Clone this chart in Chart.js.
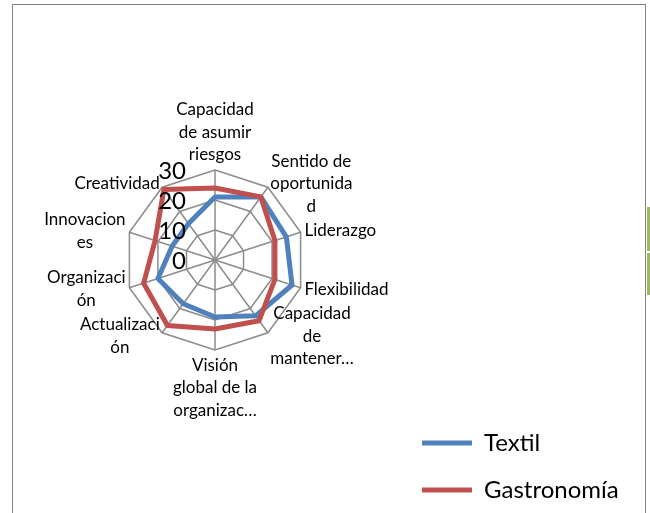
<!DOCTYPE html>
<html>
<head>
<meta charset="utf-8">
<script src="https://cdn.jsdelivr.net/npm/chart.js@4"></script>
<style>
  body { margin: 0; background: #fff; overflow: hidden; }
  #frame { position: absolute; left: 12px; top: 4px; width: 632px; height: 530px; border: 1px solid #858585; }
  #chart { display: block; }
  .side { position: absolute; left: 647px; width: 3px; background: #9bbb59; }
</style>
</head>
<body>
<div id="frame"><canvas id="chart" width="632" height="520"></canvas></div>
<div class="side" style="top:207px;height:44px"></div>
<div class="side" style="top:253px;height:42px"></div>
<script>
// Radar chart: Textil vs Gastronomía

// Categories (multi-line labels as in the original)
const categories = [
    ['Capacidad', 'de asumir', 'riesgos'],
    ['Sentido de', 'oportunida', 'd'],
    'Liderazgo',
    'Flexibilidad',
    ['Capacidad', 'de', 'mantener…'],
    ['Visión', 'global de la', 'organizac…'],
    ['Actualizaci', 'ón'],
    ['Organizaci', 'ón'],
    ['Innovacion', 'es'],
    'Creatividad'
];

const seriesNames = ['Textil', 'Gastronomía'];
const textil = [21, 26, 25, 27, 23, 19, 18, 20, 15, 15];
const gastronomia = [24, 26, 21, 21, 25, 23, 27, 25, 21, 29];

const tickValues = [0, 10, 20, 30];

const colors = ['#4f81bd', '#c0504d'];

const labelFont = '17px Lato';
const labelLineHeight = 22.5;

// Axis numbers to the left of the top spoke, like Excel does
const tickLabelsPlugin = {
    id: 'tickLabels',
    afterDatasetsDraw(chart) {
        const scale = chart.scales.r;
        const ctx = chart.ctx;
        ctx.save();
        ctx.font = '24px Lato';
        ctx.fillStyle = '#000';
        ctx.textAlign = 'right';
        ctx.textBaseline = 'middle';
        tickValues.forEach(v => {
            const d = scale.getDistanceFromCenterForValue(v);
            ctx.fillText(String(v), scale.xCenter - 29, scale.yCenter - d + 1);
        });
        ctx.restore();
    }
};

// Category labels: vertically centred on their spoke end, lines centred in the block
const pointLabelsPlugin = {
    id: 'excelPointLabels',
    afterDatasetsDraw(chart) {
        const scale = chart.scales.r;
        const ctx = chart.ctx;
        const n = categories.length;
        ctx.save();
        ctx.font = labelFont;
        ctx.fillStyle = '#000';
        ctx.textAlign = 'center';
        ctx.textBaseline = 'middle';
        categories.forEach((label, i) => {
            const lines = [].concat(label);
            const p = scale.getPointPosition(i, scale.drawingArea + 4);
            const angle = (i * 360 / n) % 360;
            const bw = Math.max(...lines.map(l => ctx.measureText(l).width));
            const bh = lines.length * labelLineHeight;
            let cx = p.x;
            let top = p.y - bh / 2;
            if (angle === 0) {
                top = p.y - bh;
            } else if (angle === 180) {
                top = p.y;
            } else if (angle < 180) {
                cx = p.x + bw / 2;
            } else {
                cx = p.x - bw / 2;
            }
            lines.forEach((l, k) => ctx.fillText(l, cx, top + labelLineHeight * (k + 0.5)));
        });
        ctx.restore();
    }
};

// Put the legend box at the lower right, as in the original
const legendPlace = {
    id: 'legendPlace',
    afterLayout(chart) {
        const lg = chart.legend;
        const dx = 386 - lg.left;
        const dy = 520 - lg.bottom;
        lg.left += dx;
        lg.right += dx;
        lg.top += dy;
        lg.bottom += dy;
    }
};

new Chart(document.getElementById('chart'), {
    type: 'radar',
    data: {
        labels: categories,
        datasets: [{
            label: seriesNames[0],
            data: textil,
            borderColor: colors[0],
            backgroundColor: colors[0],
            borderWidth: 5,
            borderJoinStyle: 'round',
            borderCapStyle: 'round',
            fill: false,
            pointRadius: 0,
            order: 1
        }, {
            label: seriesNames[1],
            data: gastronomia,
            borderColor: colors[1],
            backgroundColor: colors[1],
            borderWidth: 5,
            borderJoinStyle: 'round',
            borderCapStyle: 'round',
            fill: false,
            pointRadius: 0,
            order: 0
        }]
    },
    options: {
        responsive: false,
        animation: false,
        layout: {
            padding: { left: 83, right: 81, top: 165, bottom: 175 }
        },
        plugins: {
            legend: {
                position: 'right',
                align: 'end',
                labels: {
                    usePointStyle: true,
                    pointStyle: 'line',
                    pointStyleWidth: 50,
                    padding: 23,
                    color: '#000',
                    font: { family: 'Lato', size: 24 },
                    sort: (a, b) => a.datasetIndex - b.datasetIndex
                }
            },
            tooltip: { enabled: false }
        },
        scales: {
            r: {
                min: 0,
                max: 30,
                ticks: { stepSize: 10, display: false },
                grid: { color: '#8c8c8c', lineWidth: 1.5 },
                angleLines: { color: '#8c8c8c', lineWidth: 1.5 },
                pointLabels: { display: false }
            }
        }
    },
    plugins: [tickLabelsPlugin, pointLabelsPlugin, legendPlace]
});
</script>
</body>
</html>
